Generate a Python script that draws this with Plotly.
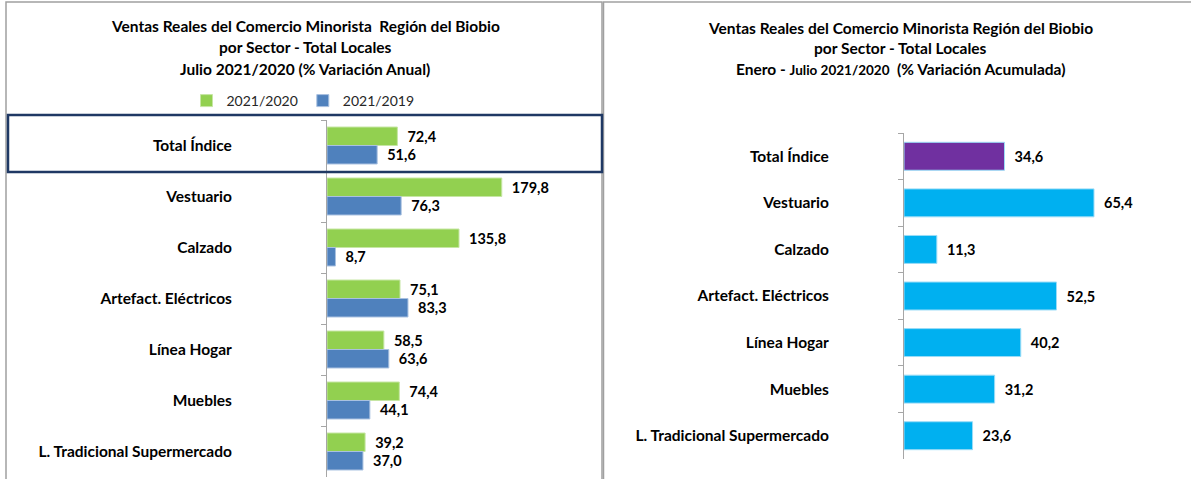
import plotly.graph_objects as go

# ---------------- data ----------------
categories = ["Total Índice", "Vestuario", "Calzado", "Artefact. Eléctricos",
              "Línea Hogar", "Muebles", "L. Tradicional Supermercado"]
var_2021_2020 = [72.4, 179.8, 135.8, 75.1, 58.5, 74.4, 39.2]
var_2021_2019 = [51.6, 76.3, 8.7, 83.3, 63.6, 44.1, 37.0]
var_acumulada = [34.6, 65.4, 11.3, 52.5, 40.2, 31.2, 23.6]
series_names = ["2021/2020", "2021/2019"]

title_left = ["Ventas Reales del Comercio Minorista  Región del Biobio",
              "por Sector - Total Locales",
              "Julio 2021/2020 (% Variación Anual)"]
title_right = ["Ventas Reales del Comercio Minorista Región del Biobio",
               "por Sector - Total Locales",
               "Enero - <span style='font-size:13.5px'>Julio 2021/2020</span>  (% Variación Acumulada)"]

# ---------------- style ----------------
W, H = 1191, 479
FONT = "Lato"
GREEN, BLUE = "#92D050", "#4F81BD"
PURPLE, CYAN = "#7030A0", "#00B0F0"
AXIS_GRAY = "#A6A6A6"
NAVY = "#1F3864"
LABEL_SIZE = 15.5
VALUE_SIZE = 14.5
TITLE_SIZE = 15.5


def px(x):
    return x / W


def py(y):
    return 1 - y / H


def fmt(v):
    return ("\u00a0\u00a0" + f"{v:.1f}").replace(".", ",")


fig = go.Figure()

fig.add_trace(go.Bar(
    y=categories, x=var_2021_2020, orientation="h", name=series_names[0],
    marker=dict(color=GREEN, line=dict(color="#C6E6A4", width=1)),
    text=[fmt(v) for v in var_2021_2020], textposition="outside",
    constraintext="none", cliponaxis=False,
    textfont=dict(family=FONT, size=VALUE_SIZE, color="black", weight="bold"),
    xaxis="x", yaxis="y", hoverinfo="skip"))
fig.add_trace(go.Bar(
    y=categories, x=var_2021_2019, orientation="h", name=series_names[1],
    marker=dict(color=BLUE, line=dict(color="#A9C1E0", width=1)),
    text=[fmt(v) for v in var_2021_2019], textposition="outside",
    constraintext="none", cliponaxis=False,
    textfont=dict(family=FONT, size=VALUE_SIZE, color="black", weight="bold"),
    xaxis="x", yaxis="y", hoverinfo="skip"))

acum_colors = [PURPLE if c == "Total Índice" else CYAN for c in categories]
fig.add_trace(go.Bar(
    y=categories, x=var_acumulada, orientation="h", showlegend=False,
    width=0.6, offset=-0.3,
    marker=dict(color=acum_colors, line=dict(color="#9ADCF7", width=1)),
    text=[fmt(v) for v in var_acumulada], textposition="outside",
    constraintext="none", cliponaxis=False,
    textfont=dict(family=FONT, size=VALUE_SIZE, color="black", weight="bold"),
    xaxis="x2", yaxis="y2", hoverinfo="skip"))

yaxis_common = dict(
    type="category", autorange="reversed", tickson="boundaries",
    ticks="outside", ticklen=5, tickcolor=AXIS_GRAY, tickwidth=1,
    showline=True, linecolor=AXIS_GRAY, linewidth=1, showgrid=False,
    zeroline=False, fixedrange=True,
    tickfont=dict(family=FONT, size=LABEL_SIZE, color="black", weight="bold"))

xaxis_common = dict(visible=False, showgrid=False, zeroline=False, fixedrange=True)

ax_l, ax_r = 327, 904
fig.update_layout(
    width=W, height=H, margin=dict(l=0, r=0, t=0, b=0),
    paper_bgcolor="white", plot_bgcolor="rgba(0,0,0,0)",
    barmode="group", bargap=0.275, bargroupgap=0,
    font=dict(family=FONT, size=14, color="black"),
    xaxis=dict(xaxis_common, domain=[px(ax_l), px(590)], range=[0, (590 - ax_l) / 0.972], anchor="y"),
    yaxis=dict(yaxis_common, domain=[py(477), py(120)], anchor="x", ticklabelstandoff=91),
    xaxis2=dict(xaxis_common, domain=[px(ax_r), px(1180)], range=[0, (1180 - ax_r) / 2.905], anchor="y2"),
    yaxis2=dict(yaxis_common, domain=[py(459), py(133)], anchor="x2", ticklabelstandoff=71),
    legend=dict(orientation="h", x=px(303), xanchor="center", y=py(101), yanchor="middle",
                font=dict(family=FONT, size=14, color="#262626"), bgcolor="rgba(0,0,0,0)",
                itemwidth=30, traceorder="normal"),
)

annotations = []
for line, y in zip(title_left, [26, 47, 69]):
    annotations.append(dict(text=line, x=px(305), y=py(y), xref="paper", yref="paper",
                            xanchor="center", yanchor="middle", showarrow=False,
                            font=dict(family=FONT, size=TITLE_SIZE, color="black", weight="bold")))
for line, y in zip(title_right, [28, 48, 69]):
    annotations.append(dict(text=line, x=px(900), y=py(y), xref="paper", yref="paper",
                            xanchor="center", yanchor="middle", showarrow=False,
                            font=dict(family=FONT, size=TITLE_SIZE, color="black", weight="bold")))
fig.update_layout(annotations=annotations)

shapes = [
    # left panel border
    dict(type="rect", xref="paper", yref="paper", x0=px(6), x1=px(602), y0=py(490), y1=py(2),
         line=dict(color="#A0A0A0", width=1.5)),
    # right panel top and left border
    dict(type="line", xref="paper", yref="paper", x0=px(603), x1=px(1191), y0=py(2), y1=py(2),
         line=dict(color="#A0A0A0", width=1.5)),
    dict(type="line", xref="paper", yref="paper", x0=px(603.5), x1=px(603.5), y0=py(2), y1=py(490),
         line=dict(color="#A0A0A0", width=1.5)),
    # highlight of total row
    dict(type="rect", xref="paper", yref="paper", x0=px(8), x1=px(602), y0=py(172), y1=py(115),
         line=dict(color=NAVY, width=2.5)),
]
fig.update_layout(shapes=shapes)

fig.write_html("out.html", config={"displayModeBar": False},
               post_script="document.body.style.margin='0';document.body.style.overflow='hidden';")
